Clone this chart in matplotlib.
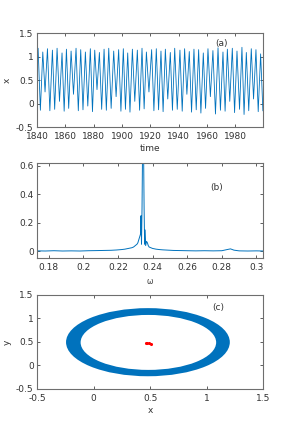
import matplotlib
matplotlib.use("Agg")
import matplotlib.pyplot as plt
from matplotlib.patches import Ellipse
from matplotlib.ticker import FuncFormatter
import numpy as np

start_t = 1840.0
start_x = 0.78
peak_t = [1840.7, 1844.0, 1847.3, 1850.8, 1854.1, 1857.6, 1860.7, 1864.0, 1867.5, 1870.8,
          1874.1, 1877.6, 1880.7, 1884.0, 1887.3, 1890.6, 1894.1, 1897.6, 1900.9, 1904.0,
          1907.3, 1910.8, 1914.1, 1917.2, 1920.9, 1924.2, 1927.5, 1930.6, 1934.1, 1937.2,
          1940.9, 1944.2, 1947.5, 1950.8, 1954.1, 1957.4, 1960.7, 1964.2, 1967.8, 1971.3,
          1974.4, 1977.9, 1981.2, 1984.7, 1987.8, 1991.3, 1994.6, 1997.9]
peak_v = [1.18, 1.10, 1.17, 1.14, 1.18, 1.08, 1.16, 1.12, 1.18, 1.15, 1.10, 1.17, 1.14, 1.09,
          1.16, 1.18, 1.12, 1.15, 1.17, 1.08, 1.16, 1.14, 1.18, 1.10, 1.15, 1.17, 1.12, 1.16,
          1.09, 1.18, 1.14, 1.17, 1.11, 1.16, 1.15, 1.08, 1.17, 1.13, 1.19, 1.10, 1.16, 1.18,
          1.12, 1.20, 1.09, 1.17, 1.15, 1.06]
trough_t = [1842.3, 1845.6, 1849.0, 1852.4, 1855.8, 1859.1, 1862.3, 1865.7, 1869.1, 1872.4,
            1875.8, 1879.1, 1882.3, 1885.6, 1888.9, 1892.3, 1895.8, 1899.2, 1902.4, 1905.6,
            1909.0, 1912.4, 1915.6, 1919.0, 1922.5, 1925.8, 1929.0, 1932.3, 1935.6, 1939.0,
            1942.5, 1945.8, 1949.1, 1952.4, 1955.7, 1959.0, 1962.4, 1966.0, 1969.5, 1972.8,
            1976.1, 1979.5, 1983.0, 1986.2, 1989.5, 1992.9, 1996.2, 1999.5]
trough_v = [-0.14, 0.25, -0.15, -0.12, 0.05, -0.16, -0.10, 0.20, -0.15, -0.13, -0.05, -0.17,
            0.30, -0.12, -0.14, -0.10, 0.15, -0.16, -0.12, -0.18, 0.05, -0.14, -0.11, 0.25,
            -0.15, -0.13, -0.17, 0.10, -0.14, -0.12, -0.16, 0.20, -0.18, -0.13, -0.20, -0.10,
            0.15, -0.22, -0.14, -0.16, 0.05, -0.19, -0.12, -0.23, -0.15, 0.10, -0.17, -0.15]

# (b) spectrum
freq = [0.1733, 0.178, 0.183, 0.188, 0.193, 0.198, 0.203, 0.208, 0.212, 0.216, 0.219, 0.222,
        0.224, 0.226, 0.228, 0.229, 0.230, 0.231, 0.2315, 0.232, 0.2325, 0.233, 0.2333,
        0.2336, 0.2339, 0.2342, 0.2345, 0.2348, 0.2351, 0.2354, 0.2357, 0.236, 0.2365,
        0.237, 0.2375, 0.238, 0.239, 0.240, 0.242, 0.244, 0.246, 0.249, 0.252, 0.256, 0.26,
        0.265, 0.27, 0.275, 0.28, 0.283, 0.285, 0.287, 0.29, 0.295, 0.3, 0.3038]
amp = [0.003, 0.002, 0.004, 0.002, 0.003, 0.002, 0.004, 0.005, 0.006, 0.007, 0.009, 0.012,
       0.015, 0.02, 0.025, 0.03, 0.04, 0.05, 0.06, 0.08, 0.10, 0.12, 0.25, 0.05, 0.3, 0.7,
       0.9, 0.7, 0.3, 0.05, 0.15, 0.04, 0.07, 0.06, 0.04, 0.03, 0.025, 0.02, 0.015, 0.012,
       0.01, 0.008, 0.006, 0.005, 0.004, 0.003, 0.004, 0.003, 0.004, 0.012, 0.017, 0.008,
       0.003, 0.002, 0.003, 0.002]

# (c) phase portrait: ring of the trajectory and the fixed point
ring_center = (0.481, 0.495)
ring_outer = (1.45, 1.45)    # full width, height
hole_center = (0.485, 0.49)
ring_inner = (1.20, 1.17)
fixed_x = [0.46, 0.475, 0.49, 0.505]
fixed_y = [0.47, 0.472, 0.47, 0.466]

blue = "#0072BD"
frame = "#6e6e6e"
plt.rcParams["font.family"] = "DejaVu Sans"
plt.rcParams["font.size"] = 6.5

fig = plt.figure(figsize=(2.9, 4.37), dpi=100)
ax1 = fig.add_axes([0.128, 0.709, 0.779, 0.215])
ax2 = fig.add_axes([0.128, 0.410, 0.779, 0.217])
ax3 = fig.add_axes([0.128, 0.110, 0.779, 0.215])

for ax in (ax1, ax2, ax3):
    for s in ax.spines.values():
        s.set_color(frame)
        s.set_linewidth(0.8)
    ax.tick_params(direction="in", length=2, width=0.6, color="#444444",
                   labelcolor="#333333", top=True, right=True)
    ax.tick_params(axis="x", pad=3.5)
    ax.tick_params(axis="y", pad=2.5)

fmt = FuncFormatter(lambda v, p: "%g" % round(v, 3))

# (a)
t = [start_t]
xs = [start_x]
for i in range(len(peak_t)):
    t += [peak_t[i], trough_t[i]]
    xs += [peak_v[i], trough_v[i]]
ax1.plot(t, xs, color=blue, lw=0.6)
ax1.set_xlim(1840, 1999.6)
ax1.set_ylim(-0.5, 1.5)
ax1.set_xticks(range(1840, 2000, 20))
ax1.set_yticks([-0.5, 0, 0.5, 1, 1.5])
ax1.yaxis.set_major_formatter(fmt)
ax1.set_xlabel("time", labelpad=2, color="#333333")
ax1.set_ylabel("x", labelpad=3, color="#333333")
ax1.text(1970, 1.29, "(a)", ha="center", va="center", color="#333333")

# (b)
ax2.plot(freq, amp, color=blue, lw=0.7)
ax2.set_xlim(0.1733, 0.3038)
ax2.set_ylim(-0.046, 0.621)
ax2.set_xticks([0.18, 0.2, 0.22, 0.24, 0.26, 0.28, 0.3])
ax2.set_yticks([0, 0.2, 0.4, 0.6])
ax2.xaxis.set_major_formatter(fmt)
ax2.yaxis.set_major_formatter(fmt)
ax2.set_xlabel("\u03c9", labelpad=4, color="#333333", fontsize=5.5)
ax2.text(0.277, 0.45, "(b)", ha="center", va="center", color="#333333")

# (c)
ax3.add_patch(Ellipse(ring_center, ring_outer[0], ring_outer[1], color=blue, lw=0, zorder=1))
ax3.add_patch(Ellipse(hole_center, ring_inner[0], ring_inner[1], color="white", lw=0, zorder=2))
ax3.scatter(fixed_x, fixed_y, s=5, color="red", zorder=3, linewidths=0)
ax3.set_xlim(-0.5, 1.5)
ax3.set_ylim(-0.5, 1.5)
ax3.set_xticks([-0.5, 0, 0.5, 1, 1.5])
ax3.set_yticks([-0.5, 0, 0.5, 1, 1.5])
ax3.xaxis.set_major_formatter(fmt)
ax3.yaxis.set_major_formatter(fmt)
ax3.set_xlabel("x", labelpad=2, color="#333333")
ax3.set_ylabel("y", labelpad=3, color="#333333")
ax3.text(1.10, 1.236, "(c)", ha="center", va="center", color="#333333")

fig.savefig("out.png", dpi=100)
